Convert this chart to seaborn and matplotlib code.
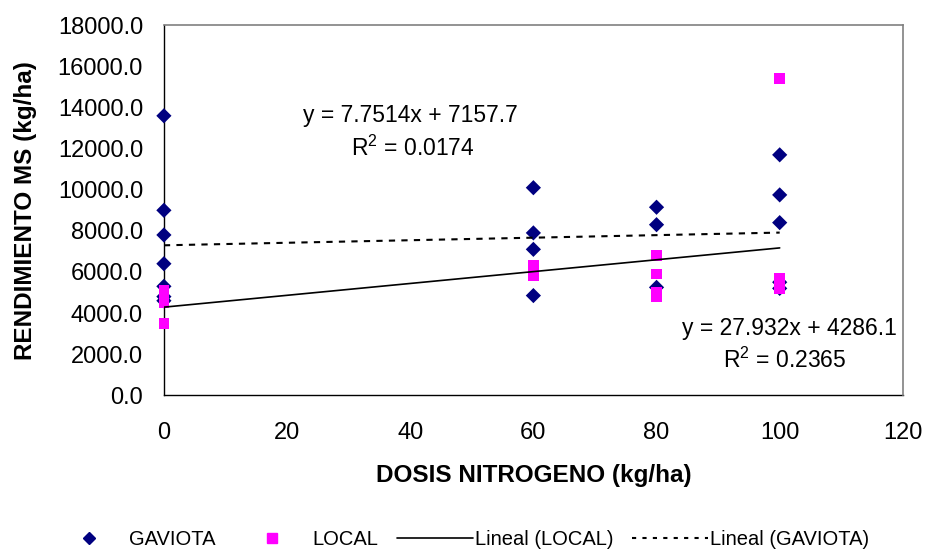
import numpy as np
import pandas as pd
import matplotlib
matplotlib.use('Agg')
import matplotlib.pyplot as plt
import seaborn as sns
from matplotlib.lines import Line2D

# datos (dosis N kg/ha, rendimiento MS kg/ha)
gaviota_dosis = [0, 0, 0, 0, 0, 0, 0, 60, 60, 60, 60, 80, 80, 80, 100, 100, 100, 100, 100]
gaviota_rend = [13600, 9000, 7800, 6400, 5300, 4800, 4600,
                10100, 7900, 7100, 4850,
                9150, 8300, 5250,
                11700, 9750, 8400, 5500, 5200]
local_dosis = [0, 0, 0, 0, 60, 60, 60, 80, 80, 80, 80, 100, 100, 100, 100]
local_rend = [5100, 4800, 4500, 3500,
              6300, 6000, 5800,
              6800, 5900, 5000, 4800,
              15400, 5700, 5450, 5200]

eq_gaviota = ["y = 7.7514x + 7157.7", "R$^{2}$ = 0.0174"]
eq_local = ["y = 27.932x + 4286.1", "R$^{2}$ = 0.2365"]

df = pd.DataFrame({
    'dosis': gaviota_dosis + local_dosis,
    'rendimiento': gaviota_rend + local_rend,
    'variedad': ['GAVIOTA'] * len(gaviota_dosis) + ['LOCAL'] * len(local_dosis),
})

sns.set_style('white')
plt.rcParams['font.family'] = ['Liberation Sans', 'DejaVu Sans']
plt.rcParams['text.color'] = 'black'
plt.rcParams['axes.labelcolor'] = 'black'
plt.rcParams['mathtext.fontset'] = 'custom'
plt.rcParams['mathtext.rm'] = 'Liberation Sans'
plt.rcParams['mathtext.it'] = 'Liberation Sans:italic'
plt.rcParams['mathtext.bf'] = 'Liberation Sans:bold'

navy = '#000080'
magenta = '#FF00FF'

fig = plt.figure(figsize=(9.26, 5.52), dpi=100)
ax = fig.add_axes([0.177, 0.284, 0.798, 0.670])

sns.scatterplot(data=df, x='dosis', y='rendimiento', hue='variedad', style='variedad',
                markers={'GAVIOTA': 'D', 'LOCAL': 's'},
                palette={'GAVIOTA': navy, 'LOCAL': magenta},
                s=60, linewidth=0, legend=False, clip_on=False, zorder=3, ax=ax)

sns.regplot(data=df[df.variedad == 'LOCAL'], x='dosis', y='rendimiento', scatter=False,
            ci=None, truncate=True, color='black', line_kws=dict(lw=1.2, zorder=4), ax=ax)
sns.regplot(data=df[df.variedad == 'GAVIOTA'], x='dosis', y='rendimiento', scatter=False,
            ci=None, truncate=True, color='black',
            line_kws=dict(lw=1.5, ls=(0, (3, 3)), zorder=4), ax=ax)

ax.set_xlim(0, 120)
ax.set_ylim(0, 18000)
ax.set_xticks(np.arange(0, 121, 20))
ax.set_yticks(np.arange(0, 18001, 2000))
ax.set_yticklabels(['%.1f' % v for v in np.arange(0, 18001, 2000)])
ax.tick_params(axis='both', direction='out', length=6, width=1, color='black',
               labelsize=17, labelcolor='black')
ax.tick_params(axis='y', pad=9)
ax.tick_params(axis='x', pad=13)

for s in ['left', 'bottom']:
    ax.spines[s].set_color('black')
    ax.spines[s].set_linewidth(1)
    ax.spines[s].set_zorder(2)
for s in ['top', 'right']:
    ax.spines[s].set_color('#808080')
    ax.spines[s].set_linewidth(1.2)

ax.set_xlabel('DOSIS NITROGENO (kg/ha)', fontsize=17.5, fontweight='bold')
ax.set_ylabel('RENDIMIENTO MS (kg/ha)', fontsize=17.5, fontweight='bold')
ax.xaxis.set_label_coords(0.5, -0.185)
ax.yaxis.set_label_coords(-0.172, 0.5)

ax.text(0.333, 0.757, eq_gaviota[0], transform=ax.transAxes, ha='center', va='center', fontsize=16.5)
ax.text(0.337, 0.668, eq_gaviota[1], transform=ax.transAxes, ha='center', va='center', fontsize=16.5)
ax.text(0.847, 0.181, eq_local[0], transform=ax.transAxes, ha='center', va='center', fontsize=16.5)
ax.text(0.840, 0.095, eq_local[1], transform=ax.transAxes, ha='center', va='center', fontsize=16.5)

handles = [
    Line2D([], [], ls='none', marker='D', color=navy, markersize=6),
    Line2D([], [], ls='none', marker='s', color=magenta, markersize=7),
    Line2D([], [], color='black', lw=1.2),
    Line2D([], [], color='black', lw=1.5, ls=(0, (2, 3))),
]
labels = ['GAVIOTA', 'LOCAL', 'Lineal (LOCAL)', 'Lineal (GAVIOTA)']
fig.legend(handles, labels, loc='center', bbox_to_anchor=(0.497, 0.022), ncol=4,
           frameon=False, fontsize=14.5, handlelength=3.8, handletextpad=0.1,
           columnspacing=0.9)

fig.savefig('out.png', dpi=100)
